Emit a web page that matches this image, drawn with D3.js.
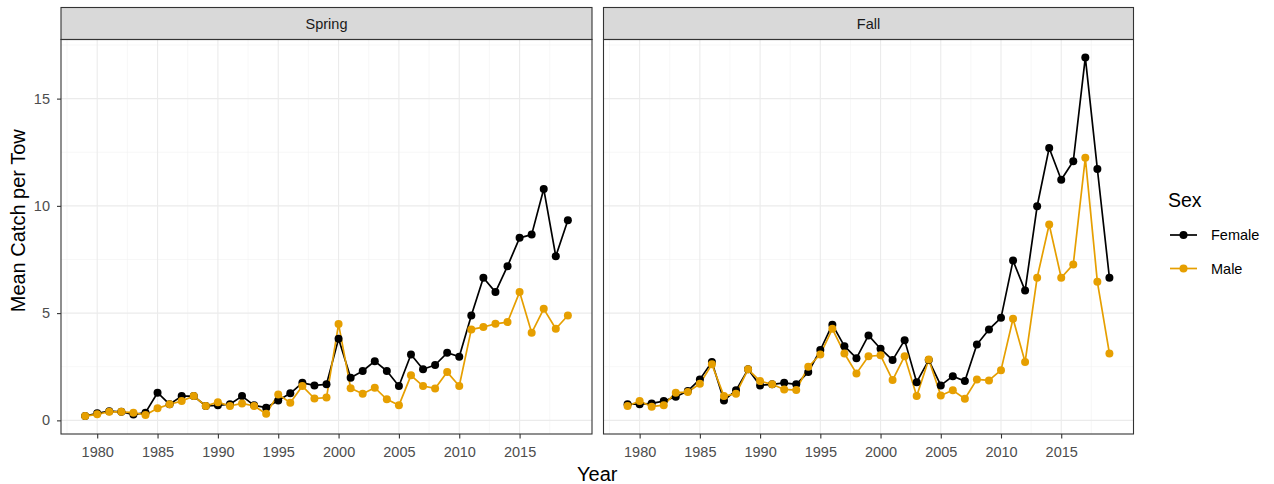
<!DOCTYPE html>
<html>
<head>
<meta charset="utf-8">
<script src="https://cdn.jsdelivr.net/npm/d3@7"></script>
<style>
  html, body { margin: 0; padding: 0; background: #fff; }
  svg { display: block; font-family: "Liberation Sans", Arial, sans-serif; }
</style>
</head>
<body>
<svg id="chart" width="1274" height="484"></svg>
<script>
const years = d3.range(1979, 2020);
const seasons = ["Spring", "Fall"];
const sexes = ["Female", "Male"];
const sexColors = ["#000000", "#E69F00"];
const xTicks = [1980, 1985, 1990, 1995, 2000, 2005, 2010, 2015];
const yTicks = [0, 5, 10, 15];

const springFemale = [0.2, 0.33, 0.43, 0.4, 0.27, 0.36, 1.29, 0.75, 1.13, 1.13, 0.67, 0.7, 0.75, 1.13, 0.7, 0.59, 0.93, 1.26, 1.75, 1.63, 1.68, 3.8, 1.99, 2.3, 2.76, 2.3, 1.6, 3.07, 2.38, 2.58, 3.15, 2.97, 4.89, 6.65, 5.98, 7.19, 8.51, 8.66, 10.79, 7.65, 9.33];
const springMale = [0.2, 0.28, 0.4, 0.4, 0.36, 0.25, 0.56, 0.75, 0.9, 1.13, 0.67, 0.85, 0.67, 0.79, 0.67, 0.31, 1.21, 0.82, 1.6, 1.02, 1.06, 4.49, 1.5, 1.24, 1.52, 0.98, 0.7, 2.1, 1.6, 1.49, 2.25, 1.6, 4.24, 4.35, 4.5, 4.58, 5.98, 4.08, 5.2, 4.27, 4.89];
const fallFemale = [0.75, 0.75, 0.79, 0.9, 1.1, 1.37, 1.91, 2.72, 0.93, 1.4, 2.38, 1.63, 1.68, 1.75, 1.68, 2.25, 3.28, 4.46, 3.46, 2.9, 3.96, 3.34, 2.81, 3.74, 1.78, 2.81, 1.63, 2.06, 1.83, 3.54, 4.24, 4.78, 7.45, 6.05, 9.98, 12.7, 11.22, 12.08, 16.92, 11.72, 6.65];
const fallMale = [0.67, 0.9, 0.64, 0.71, 1.29, 1.32, 1.71, 2.61, 1.13, 1.24, 2.38, 1.83, 1.68, 1.44, 1.41, 2.5, 3.07, 4.27, 3.12, 2.19, 2.99, 3.03, 1.88, 2.99, 1.13, 2.84, 1.16, 1.4, 1.01, 1.91, 1.86, 2.34, 4.74, 2.72, 6.65, 9.13, 6.65, 7.27, 12.24, 6.46, 3.12];

const seriesBySeason = {
  Spring: [springFemale, springMale],
  Fall: [fallFemale, fallMale]
};

const svg = d3.select("#chart");

const panels = [
  { name: "Spring", x0: 61, x1: 592 },
  { name: "Fall", x0: 603.5, x1: 1133.5 }
];
const stripTop = 7.5, stripBottom = 39.5, panelBottom = 434;

// y domain with 5% expansion, like ggplot
const allVals = [].concat(springFemale, springMale, fallFemale, fallMale);
const yMin = d3.min(allVals), yMax = d3.max(allVals);
const yPad = (yMax - yMin) * 0.05;
const y = d3.scaleLinear().domain([yMin - yPad, yMax + yPad]).range([panelBottom, stripBottom]);
const xPad = (d3.max(years) - d3.min(years)) * 0.05;

const tickColor = "#333333";
const labelColor = "#4d4d4d";
const fontFam = "Liberation Sans, Arial, sans-serif";

panels.forEach(p => {
  const x = d3.scaleLinear().domain([d3.min(years) - xPad, d3.max(years) + xPad]).range([p.x0, p.x1]);
  const g = svg.append("g");

  // minor grid
  const xMinor = [];
  for (let i = 0; i < xTicks.length - 1; i++) xMinor.push((xTicks[i] + xTicks[i + 1]) / 2);
  xMinor.push(xTicks[0] - 2.5, xTicks[xTicks.length - 1] + 2.5);
  const yMinor = [2.5, 7.5, 12.5, 17.5].filter(v => v <= y.domain()[1]);
  g.selectAll(".xminor").data(xMinor.filter(v => v > x.domain()[0] && v < x.domain()[1])).enter().append("line")
    .attr("x1", d => x(d)).attr("x2", d => x(d)).attr("y1", stripBottom).attr("y2", panelBottom)
    .attr("stroke", "#f2f2f2").attr("stroke-width", 0.6);
  g.selectAll(".yminor").data(yMinor).enter().append("line")
    .attr("x1", p.x0).attr("x2", p.x1).attr("y1", d => y(d)).attr("y2", d => y(d))
    .attr("stroke", "#f2f2f2").attr("stroke-width", 0.6);
  // major grid
  g.selectAll(".xmajor").data(xTicks).enter().append("line")
    .attr("x1", d => x(d)).attr("x2", d => x(d)).attr("y1", stripBottom).attr("y2", panelBottom)
    .attr("stroke", "#ebebeb").attr("stroke-width", 1.1);
  g.selectAll(".ymajor").data(yTicks).enter().append("line")
    .attr("x1", p.x0).attr("x2", p.x1).attr("y1", d => y(d)).attr("y2", d => y(d))
    .attr("stroke", "#ebebeb").attr("stroke-width", 1.1);

  // strip
  g.append("rect").attr("x", p.x0).attr("y", stripTop).attr("width", p.x1 - p.x0).attr("height", stripBottom - stripTop)
    .attr("fill", "#d9d9d9").attr("stroke", "#333333").attr("stroke-width", 1.1);
  g.append("text").attr("x", (p.x0 + p.x1) / 2).attr("y", (stripTop + stripBottom) / 2).attr("dy", "0.35em")
    .attr("text-anchor", "middle").attr("font-size", 14.5).attr("fill", "#1a1a1a").text(p.name);

  // series
  const series = seriesBySeason[p.name];
  const line = d3.line().x((d, i) => x(years[i])).y(d => y(d));
  series.forEach((vals, si) => {
    g.append("path").datum(vals).attr("d", line).attr("fill", "none")
      .attr("stroke", sexColors[si]).attr("stroke-width", 1.7).attr("stroke-linejoin", "round");
  });
  series.forEach((vals, si) => {
    g.selectAll(".pt" + si).data(vals).enter().append("circle")
      .attr("cx", (d, i) => x(years[i])).attr("cy", d => y(d)).attr("r", 4)
      .attr("fill", sexColors[si]);
  });

  // panel border
  g.append("rect").attr("x", p.x0).attr("y", stripBottom).attr("width", p.x1 - p.x0).attr("height", panelBottom - stripBottom)
    .attr("fill", "none").attr("stroke", "#333333").attr("stroke-width", 1.1);

  // x axis
  const xAxis = d3.axisBottom(x).tickValues(xTicks).tickFormat(d3.format("d")).tickSize(4.5).tickPadding(8);
  const ax = svg.append("g").attr("transform", `translate(0,${panelBottom})`).call(xAxis);
  ax.select(".domain").remove();
  ax.selectAll("line").attr("stroke", tickColor).attr("stroke-width", 1.1);
  ax.selectAll("text").attr("fill", labelColor).attr("font-size", 14.5).attr("font-family", fontFam);
});

// y axis (left panel only)
const yAxis = d3.axisLeft(y).tickValues(yTicks).tickSize(4).tickPadding(7);
const ay = svg.append("g").attr("transform", `translate(${panels[0].x0},0)`).call(yAxis);
ay.select(".domain").remove();
ay.selectAll("line").attr("stroke", tickColor).attr("stroke-width", 1.1);
ay.selectAll("text").attr("fill", labelColor).attr("font-size", 14.5).attr("font-family", fontFam);

// axis titles
svg.append("text").attr("x", (panels[0].x0 + panels[1].x1) / 2).attr("y", 481)
  .attr("text-anchor", "middle").attr("font-size", 20).attr("fill", "#000").text("Year");
svg.append("text").attr("transform", `translate(25,${(stripTop + panelBottom) / 2}) rotate(-90)`)
  .attr("text-anchor", "middle").attr("font-size", 20).attr("fill", "#000").text("Mean Catch per Tow");

// legend
const lg = svg.append("g").attr("transform", "translate(1168,0)");
lg.append("text").attr("x", 0).attr("y", 207).attr("font-size", 19.5).attr("fill", "#000").text("Sex");
sexes.forEach((s, i) => {
  const yy = 235 + i * 33.5;
  lg.append("line").attr("x1", 2).attr("x2", 29).attr("y1", yy).attr("y2", yy)
    .attr("stroke", sexColors[i]).attr("stroke-width", 1.7);
  lg.append("circle").attr("cx", 15.5).attr("cy", yy).attr("r", 4).attr("fill", sexColors[i]);
  lg.append("text").attr("x", 43).attr("y", yy).attr("dy", "0.35em").attr("font-size", 14.5).attr("fill", "#000").text(s);
});
</script>
</body>
</html>
